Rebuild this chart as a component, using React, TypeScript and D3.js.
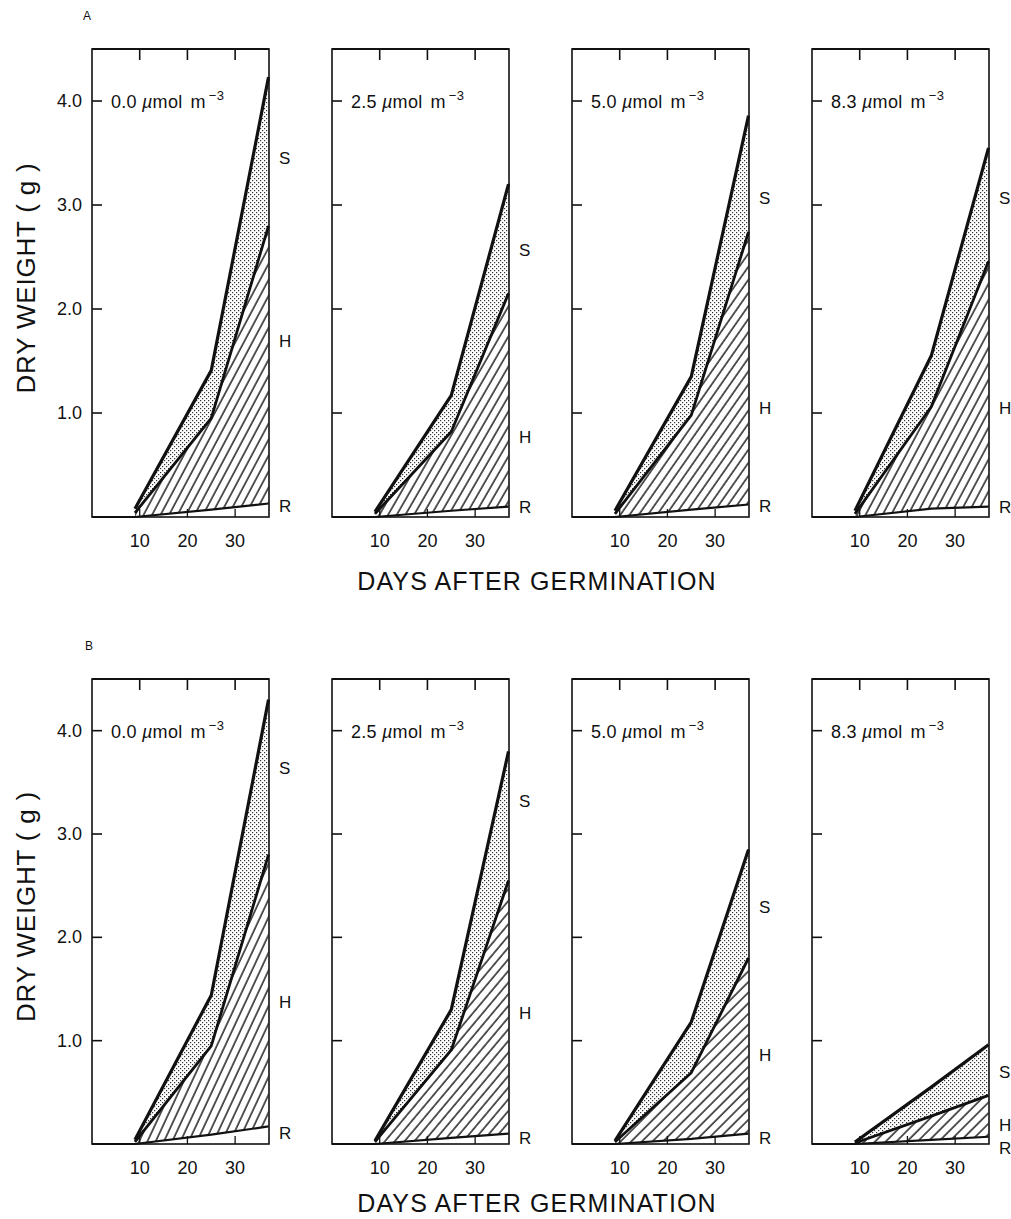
import React from "react";
import * as d3 from "d3";

// ---------- data ----------
const days = [9, 25, 37];
const concLabels = ["0.0", "2.5", "5.0", "8.3"];
const yTicks = [1, 2, 3, 4];
const xTicks = [10, 20, 30];

// Panel A: cumulative dry weight (g) of R (root), H (root+hypocotyl), S (total)
const A_S = [[0.08, 1.41, 4.23], [0.05, 1.17, 3.2], [0.06, 1.35, 3.86], [0.06, 1.55, 3.55]];
const A_H = [[0.04, 0.95, 2.8], [0.03, 0.82, 2.15], [0.03, 0.98, 2.74], [0.03, 1.06, 2.46]];
const A_R = [[0.0, 0.07, 0.13], [0.0, 0.06, 0.1], [0.0, 0.07, 0.12], [0.0, 0.08, 0.1]];
// Panel B
const B_S = [[0.04, 1.44, 4.3], [0.03, 1.3, 3.8], [0.03, 1.18, 2.85], [0.02, 0.55, 0.96]];
const B_H = [[0.02, 0.95, 2.8], [0.02, 0.91, 2.55], [0.02, 0.69, 1.8], [0.01, 0.27, 0.47]];
const B_R = [[0.0, 0.09, 0.17], [0.0, 0.06, 0.1], [0.0, 0.05, 0.1], [0.0, 0.04, 0.07]];

// label positions (g) for S, H, R letters on the right side
const A_lab = [[3.45, 1.69, 0.11], [2.57, 0.77, 0.1], [3.07, 1.05, 0.11], [3.07, 1.05, 0.1]];
const B_lab = [[3.64, 1.37, 0.11], [3.32, 1.27, 0.06], [2.29, 0.86, 0.06], [0.7, 0.18, -0.04]];
// hatch angles (deg) per panel
const A_hatch = [62, 60, 55, 62];
const B_hatch = [65, 50, 45, 45];

const FONT = "'Liberation Sans', Arial, Helvetica, sans-serif";

const panelLeft = [92, 332, 572, 812];
const panelW = 177;

function Panel({ i, top, bottom, S, H, R, lab, hatch, group }) {
  const x0 = panelLeft[i];
  const x = d3.scaleLinear().domain([0, 37.1]).range([x0, x0 + panelW]);
  const y = d3.scaleLinear().domain([0, 4.5]).range([bottom, top]);
  const pts = (arr) => days.map((d, k) => [d, arr[k]] as [number, number]);
  const area = d3
    .area<[number, number, number]>()
    .x((d) => x(d[0]))
    .y0((d) => y(d[1]))
    .y1((d) => y(d[2]));
  const line = d3
    .line<[number, number]>()
    .x((d) => x(d[0]))
    .y((d) => y(d[1]));
  const sh = days.map((d, k) => [d, H[k], S[k]] as [number, number, number]);
  const hr = days.map((d, k) => [d, R[k], H[k]] as [number, number, number]);
  const hid = `hatch-${group}-${i}`;
  const xr = x0 + panelW;
  return (
    <g>
      <defs>
        <pattern id={hid} patternUnits="userSpaceOnUse" width={7.5} height={7.5} patternTransform={`rotate(${90 - hatch})`}>
          <line x1={1} y1={-1} x2={1} y2={9} stroke="#000" strokeWidth={1.3} />
        </pattern>
      </defs>
      <path d={area(sh) || ""} fill="url(#stipple)" />
      <path d={area(hr) || ""} fill={`url(#${hid})`} />
      <path d={line([[0, 0], [days[0], 0]]) || ""} stroke="#111" strokeWidth={2} fill="none" />
      <path d={line(pts(R)) || ""} stroke="#111" strokeWidth={2.2} fill="none" />
      <path d={line(pts(H)) || ""} stroke="#111" strokeWidth={2.8} fill="none" strokeLinejoin="round" />
      <path d={line(pts(S)) || ""} stroke="#111" strokeWidth={3.2} fill="none" strokeLinejoin="round" />
      {/* frame */}
      <rect x={x0} y={top} width={panelW} height={bottom - top} fill="none" stroke="#111" strokeWidth={1.6} />
      <line x1={x0} x2={xr} y1={top} y2={top} stroke="#111" strokeWidth={2.2} />
      {/* ticks */}
      {xTicks.map((t) => (
        <g key={t}>
          <line x1={x(t)} x2={x(t)} y1={top} y2={top + 11} stroke="#111" strokeWidth={1.6} />
          <line x1={x(t)} x2={x(t)} y1={bottom} y2={bottom - 8} stroke="#111" strokeWidth={1.3} />
          <text x={x(t)} y={bottom + 30} textAnchor="middle" fontSize={18} fontFamily={FONT} fill="#111">
            {t}
          </text>
        </g>
      ))}
      {yTicks.map((t) => (
        <g key={t}>
          <line x1={x0} x2={x0 + 10} y1={y(t)} y2={y(t)} stroke="#111" strokeWidth={1.6} />
          {i === 0 && (
            <text x={x0 - 10} y={y(t) + 6} textAnchor="end" fontSize={18} fontFamily={FONT} fill="#111">
              {t.toFixed(1)}
            </text>
          )}
        </g>
      ))}
      {/* concentration title */}
      <text x={x0 + 19} y={top + 59} fontSize={18} fontFamily={FONT} fill="#111" letterSpacing={0.3}>
        {concLabels[i]}
        <tspan fontStyle="italic" dx={5}>µ</tspan>mol
        <tspan dx={8}>m</tspan>
        <tspan fontSize={13} dy={-8} dx={3}>−3</tspan>
      </text>
      {/* letters */}
      {["S", "H", "R"].map((L, k) => (
        <text key={L} x={xr + 10} y={y(lab[k]) + 6} fontSize={17} fontFamily={FONT} fill="#111">
          {L}
        </text>
      ))}
    </g>
  );
}

export default function App() {
  const groups = [
    { name: "A", top: 49, bottom: 517, titleY: 590, S: A_S, H: A_H, R: A_R, lab: A_lab, hatch: A_hatch },
    { name: "B", top: 679, bottom: 1144, titleY: 1212, S: B_S, H: B_H, R: B_R, lab: B_lab, hatch: B_hatch },
  ];
  return (
    <svg width={1011} height={1219} style={{ position: "absolute", left: 0, top: 0, background: "#fff" }}>
      <defs>
        <pattern id="stipple" patternUnits="userSpaceOnUse" width={4} height={4}>
          <rect x={0} y={0} width={4} height={4} fill="#fff" />
          <rect x={0} y={0} width={1.2} height={1.2} fill="#333" />
          <rect x={2} y={2} width={1.2} height={1.2} fill="#333" />
        </pattern>
      </defs>
      <rect x={0} y={0} width={1011} height={1219} fill="#fff" />
      {groups.map((g) => {
        const midY = (g.top + g.bottom) / 2;
        return (
          <g key={g.name}>
            <text x={g.name === "A" ? 83 : 85} y={g.top - 29} fontSize={12} fontFamily={FONT} fill="#111">
              {g.name}
            </text>
            <text
              transform={`translate(35, ${midY - 5}) rotate(-90)`}
              textAnchor="middle"
              fontSize={26}
              fontFamily={FONT}
              letterSpacing={0.8}
              fill="#111"
            >
              DRY WEIGHT ( g )
            </text>
            {concLabels.map((c, i) => (
              <Panel
                key={c}
                i={i}
                group={g.name}
                top={g.top}
                bottom={g.bottom}
                S={g.S[i]}
                H={g.H[i]}
                R={g.R[i]}
                lab={g.lab[i]}
                hatch={g.hatch[i]}
              />
            ))}
            <text x={537} y={g.titleY} textAnchor="middle" fontSize={25} fontFamily={FONT} letterSpacing={1.1} fill="#111">
              DAYS AFTER GERMINATION
            </text>
          </g>
        );
      })}
    </svg>
  );
}
